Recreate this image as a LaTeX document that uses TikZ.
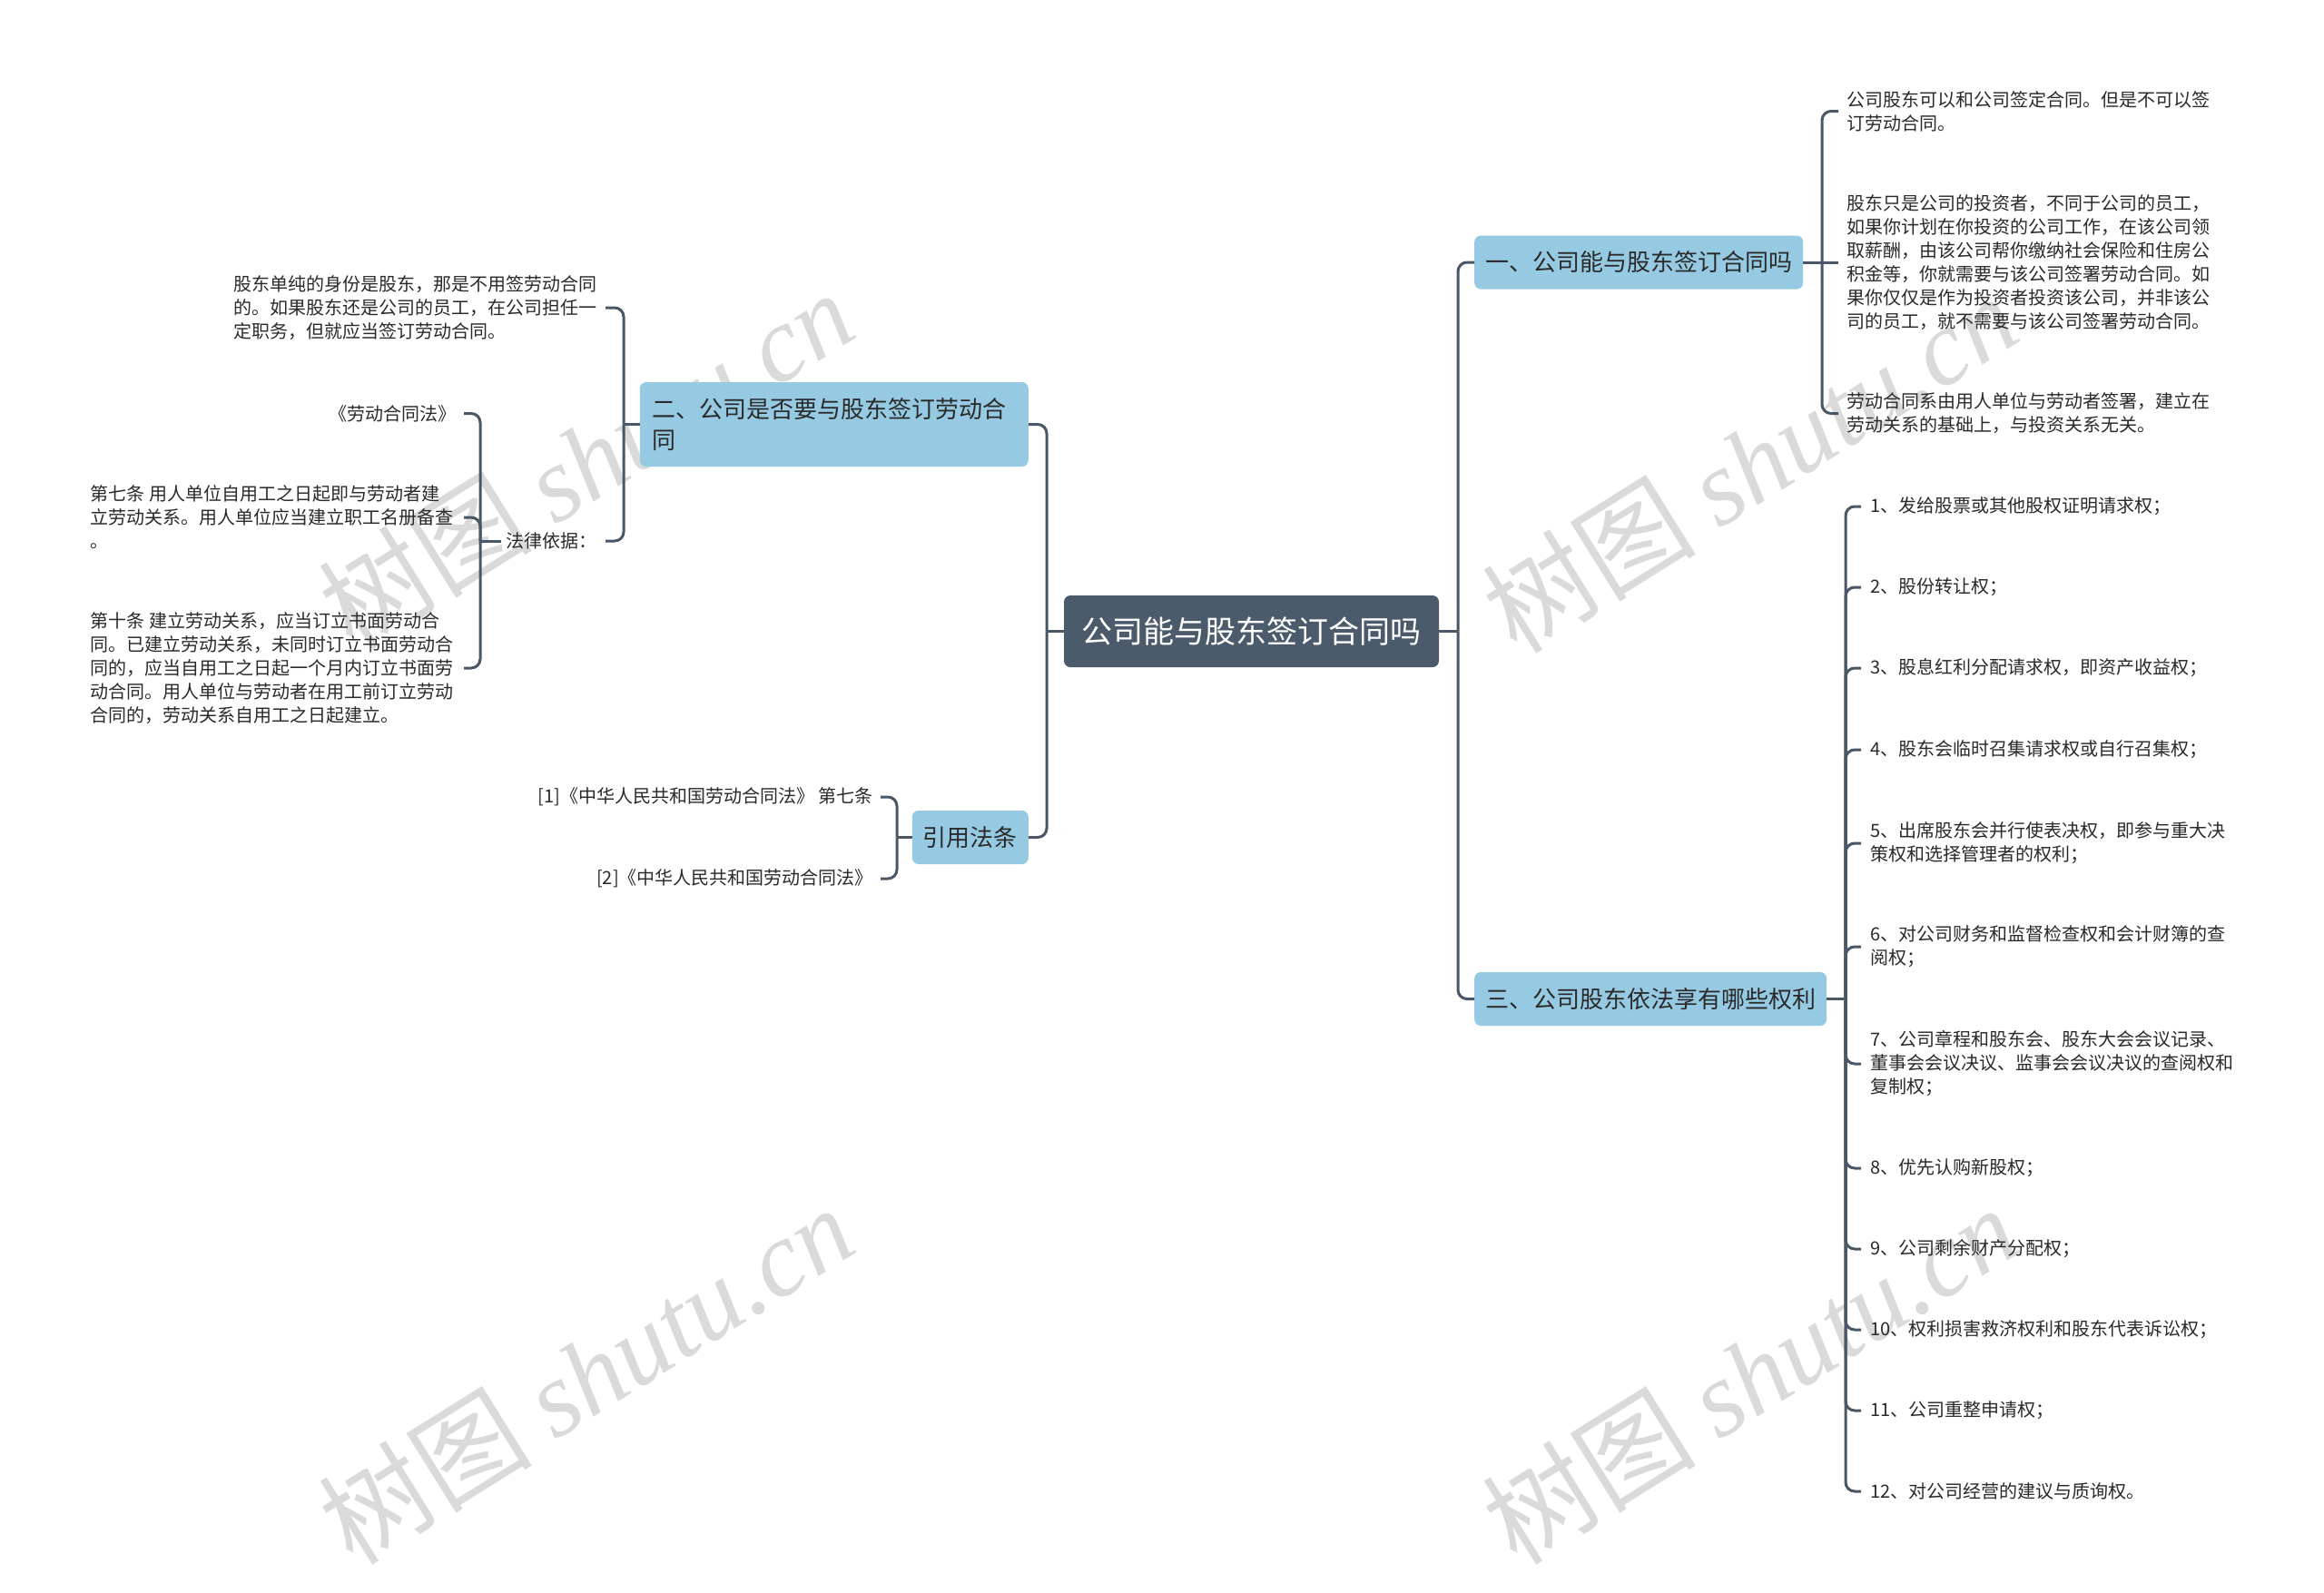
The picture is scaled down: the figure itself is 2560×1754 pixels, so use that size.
\documentclass[tikz,border=0pt]{standalone}
\usepackage{fontspec}
\setmainfont{Noto Sans CJK SC}
\newfontfamily\wmlatin{Liberation Serif}
\definecolor{lineC}{HTML}{4A5766}
\definecolor{rootC}{HTML}{4B5B6B}
\definecolor{topicC}{HTML}{96CAE3}
\definecolor{textC}{HTML}{2A2A2A}
\definecolor{wmC}{HTML}{DADADA}
\begin{document}
\begin{tikzpicture}[x=1pt,y=-1pt,
  conn/.style={draw=lineC, line width=3pt, rounded corners=10pt},
  stub/.style={draw=lineC, line width=3pt},
  rootbox/.style={fill=rootC, rounded corners=7pt, text=white, font=\fontsize{34}{40}\selectfont, minimum width=413pt, minimum height=79pt, inner sep=0pt},
  topicbox/.style={fill=topicC, rounded corners=7pt, text=textC, font=\fontsize{26}{34}\selectfont, minimum height=59pt, inner xsep=12pt, inner ysep=0pt},
  leafR/.style={anchor=west, align=left, text=textC, font=\fontsize{20}{26}\selectfont, inner sep=0pt},
  leafL/.style={anchor=east, align=left, text=textC, font=\fontsize{20}{26}\selectfont, inner sep=0pt},
  wm/.style={text=wmC, rotate=32, font=\fontsize{118}{118}\selectfont, inner sep=0pt}
]
\useasboundingbox (0,0) rectangle (2560,1754);
\fill[white] (0,0) rectangle (2560,1754);

% watermarks
\node[wm] (wm1) at (645,506) {树图 {\wmlatin\itshape shutu.cn}};
\node[wm] (wm2) at (1927,510) {树图 {\wmlatin\itshape shutu.cn}};
\node[wm] (wm3) at (645,1514) {树图 {\wmlatin\itshape shutu.cn}};
\node[wm] (wm4) at (1927,1514) {树图 {\wmlatin\itshape shutu.cn}};

% root and topics
\node[rootbox] (root) at (1378.5,695.5) {公司能与股东签订合同吗};
\node[topicbox, anchor=west] (b1) at (1624,289) {一、公司能与股东签订合同吗};
\node[topicbox, anchor=west] (b3) at (1624,1100.5) {三、公司股东依法享有哪些权利};
\node[topicbox, anchor=east, text width=400pt, align=left, minimum height=93pt, inner xsep=14pt] (b2) at (1133,467.5) {二、公司是否要与股东签订劳动合\\同};
\node[topicbox, anchor=east] (b4) at (1133,922.5) {引用法条};

% branch 1 leaves
\node[leafR] (a1) at (2034,122.5) {公司股东可以和公司签定合同。但是不可以签\\订劳动合同。};
\node[leafR] (a2) at (2034,289) {股东只是公司的投资者，不同于公司的员工，\\如果你计划在你投资的公司工作，在该公司领\\取薪酬，由该公司帮你缴纳社会保险和住房公\\积金等，你就需要与该公司签署劳动合同。如\\果你仅仅是作为投资者投资该公司，并非该公\\司的员工，就不需要与该公司签署劳动合同。};
\node[leafR] (a3) at (2034,455.5) {劳动合同系由用人单位与劳动者签署，建立在\\劳动关系的基础上，与投资关系无关。};

% branch 3 leaves
\node[leafR] (c1) at (2060,558) {1、发给股票或其他股权证明请求权；};
\node[leafR] (c2) at (2060,647) {2、股份转让权；};
\node[leafR] (c3) at (2060,736) {3、股息红利分配请求权，即资产收益权；};
\node[leafR] (c4) at (2060,826) {4、股东会临时召集请求权或自行召集权；};
\node[leafR] (c5) at (2060,929) {5、出席股东会并行使表决权，即参与重大决\\策权和选择管理者的权利；};
\node[leafR] (c6) at (2060,1043) {6、对公司财务和监督检查权和会计财簿的查\\阅权；};
\node[leafR] (c7) at (2060,1172) {7、公司章程和股东会、股东大会会议记录、\\董事会会议决议、监事会会议决议的查阅权和\\复制权；};
\node[leafR] (c8) at (2060,1287) {8、优先认购新股权；};
\node[leafR] (c9) at (2060,1376) {9、公司剩余财产分配权；};
\node[leafR] (c10) at (2060,1465) {10、权利损害救济权利和股东代表诉讼权；};
\node[leafR] (c11) at (2060,1554) {11、公司重整申请权；};
\node[leafR] (c12) at (2060,1643) {12、对公司经营的建议与质询权。};

% branch 2 leaves
\node[leafL] (d1) at (658,339) {股东单纯的身份是股东，那是不用签劳动合同\\的。如果股东还是公司的员工，在公司担任一\\定职务，但就应当签订劳动合同。};
\node[leafL] (law) at (658,596) {法律依据：};
\node[leafL] (e1) at (503,455.5) {《劳动合同法》};
\node[leafL] (e2) at (500,570) {第七条 用人单位自用工之日起即与劳动者建\\立劳动关系。用人单位应当建立职工名册备查\\。};
\node[leafL] (e3) at (500,736) {第十条 建立劳动关系，应当订立书面劳动合\\同。已建立劳动关系，未同时订立书面劳动合\\同的，应当自用工之日起一个月内订立书面劳\\动合同。用人单位与劳动者在用工前订立劳动\\合同的，劳动关系自用工之日起建立。};

% branch 4 leaves
\node[leafL] (f1) at (962,878) {[1]《中华人民共和国劳动合同法》 第七条};
\node[leafL] (f2) at (962,968) {[2]《中华人民共和国劳动合同法》};

% junctions
\coordinate (jL) at (1153,695.5);
\coordinate (jR) at (1606,695.5);
\coordinate (jB1) at (2007,289);
\coordinate (jB3) at (2033,1100.5);
\coordinate (jB2) at (687,467.5);
\coordinate (jLaw) at (529,596);
\coordinate (jB4) at (988,922.5);

% root connectors
\draw[stub] (root.west) -- (jL);
\draw[conn] (jL) |- (b2.east);
\draw[conn] (jL) |- (b4.east);
\draw[stub] (root.east) -- (jR);
\draw[conn] (jR) |- (b1.west);
\draw[conn] (jR) |- (b3.west);

% branch 1
\draw[stub] (b1.east) -- (jB1);
\draw[conn] (jB1) |- ([xshift=-9pt]a1.west);
\draw[stub] (jB1) -- ([xshift=-9pt]a2.west);
\draw[conn] (jB1) |- ([xshift=-9pt]a3.west);

% branch 3
\draw[stub] (b3.east) -- (jB3);
\foreach \n in {c1,c2,c3,c4,c5,c6,c7,c8,c9,c10,c11,c12}{
  \draw[conn] (jB3) |- ([xshift=-10pt]\n.west);
}

% branch 2
\draw[stub] (b2.west) -- (jB2);
\draw[conn] (jB2) |- ([xshift=9pt]d1.east);
\draw[conn] (jB2) |- ([xshift=9pt]law.east);
\draw[stub] ([xshift=-6pt]law.west) -- (jLaw);
\draw[conn] (jLaw) |- ([xshift=8pt]e1.east);
\draw[conn] (jLaw) |- ([xshift=11pt]e2.east);
\draw[conn] (jLaw) |- ([xshift=11pt]e3.east);

% branch 4
\draw[stub] (b4.west) -- (jB4);
\draw[conn] (jB4) |- ([xshift=8pt]f1.east);
\draw[conn] (jB4) |- ([xshift=8pt]f2.east);
\end{tikzpicture}
\end{document}
